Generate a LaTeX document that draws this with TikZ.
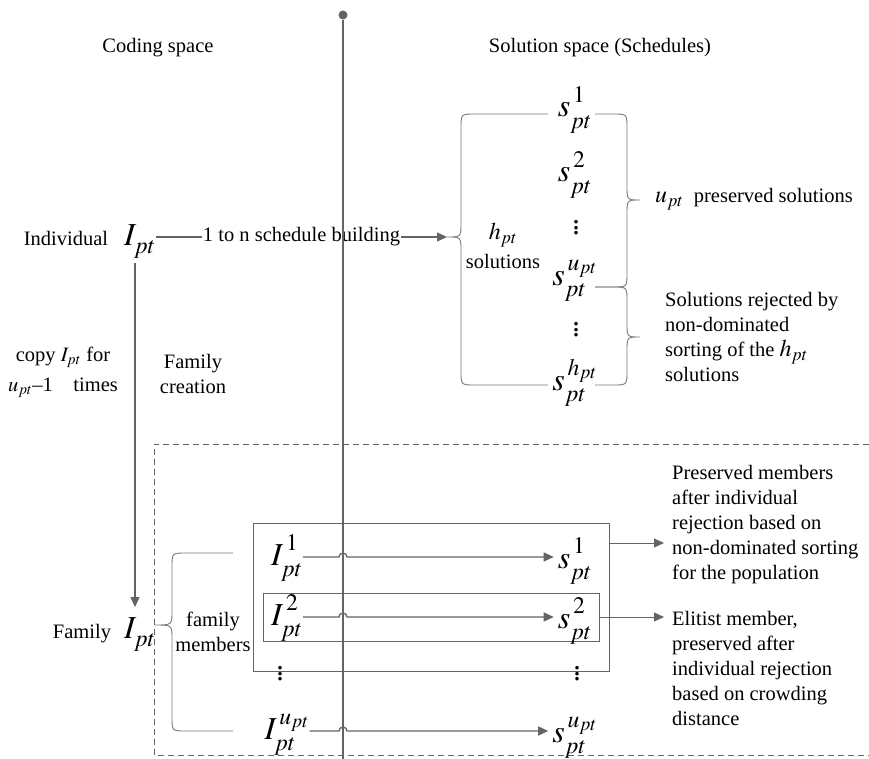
\documentclass[tikz,border=0pt]{standalone}
\usepackage{mathptmx}
\usepackage[no-math]{fontspec}
\setmainfont{Liberation Serif}
\usetikzlibrary{arrows.meta,positioning,calc}
\definecolor{linegray}{HTML}{646464}
\definecolor{bracegray}{HTML}{7A7A7A}

% symbol with raised index and lowered subscript
\newcommand{\symb}[3]{\ensuremath{#1^{\raisebox{3pt}{$\scriptstyle\,#2$}}_{\raisebox{-4pt}{$\scriptstyle#3$}}}}
\newcommand{\symsub}[2]{\ensuremath{#1_{\raisebox{-4pt}{$\scriptstyle#2$}}}}
\newcommand{\tallvdots}{\vbox{\baselineskip=5.5pt\lineskiplimit=0pt\hbox{.}\hbox{.}\hbox{.}}}

\tikzset{
    txt/.style={font=\fontsize{20.5}{25}\selectfont, inner sep=0pt},
    sym/.style={font=\fontsize{32}{32}\selectfont, inner sep=0pt},
    lab/.style={font=\fontsize{24}{24}\selectfont, inner sep=0pt},
    dotcol/.style={font=\fontsize{30}{30}\selectfont, inner sep=0pt},
    conn/.style={draw=linegray, line width=1.3pt},
    arr/.style={-{Triangle[length=10pt,width=9pt]}},
    brace/.style={draw=bracegray, line width=0.9pt},
    boxline/.style={draw=linegray, line width=0.8pt, inner sep=0pt},
}

\begin{document}
\begin{tikzpicture}[x=1pt,y=-1pt]
    \useasboundingbox (0,0) rectangle (869,759);

    % headings
    \node[txt] (coding) at (158,48) {Coding space};
    \node[txt] (solspace) at (600,48) {Solution space (Schedules)};

    % individual and its schedules
    \node[txt, anchor=base] (indiv) at (66,245) {Individual};
    \node[sym, anchor=base] (Ipt) at (140,245) {\symsub{I}{pt}};
    \coordinate (htip) at (447,237);
    \draw[conn, arr] (Ipt.east |- htip) -- node[txt, fill=white, inner xsep=1pt] (build) {1 to n schedule building} (htip);

    \draw[brace] (548,114) -- (475,114) .. controls (461,114) .. (461,128) -- (461,223)
        .. controls (461,237) .. (htip) .. controls (461,237) .. (461,251) -- (461,371)
        .. controls (461,385) .. (475,385) -- (548,385);
    \node[lab, anchor=base] (hpt) at (503,240) {$h_{pt}$};
    \node[txt, anchor=base] (hsol) at (503,268) {solutions};

    \foreach \n/\y/\t in {s1/117/1, s2/182/2, su/285/u_{pt}, sh/390/h_{pt}}
      { \node[sym, anchor=base] (\n) at (575,\y) {\symb{s}{\t}{pt}}; }
    \node[dotcol] (dots1) at (576,228) {\tallvdots};
    \node[dotcol] (dots2) at (576,330) {\tallvdots};

    \draw[brace] (595,114) -- (613,114) .. controls (627,114) .. (627,128) -- (627,186)
        .. controls (627,200) .. (640,200) .. controls (627,200) .. (627,214) -- (627,273)
        .. controls (627,287) .. (613,287) -- (595,287);
    \draw[brace] (595,287) -- (613,287) .. controls (627,287) .. (627,301) -- (627,323)
        .. controls (627,337) .. (640,337) .. controls (627,337) .. (627,351) -- (627,371)
        .. controls (627,385) .. (613,385) -- (595,385);
    \node[txt, anchor=base west] (upres) at (655,203) {{\fontsize{24}{24}\selectfont$u_{pt}$}\ \ preserved solutions};
    \node[txt, anchor=west, align=left] (reject) at (665,337) {Solutions rejected by\\non-dominated\\sorting of the {\fontsize{24}{24}\selectfont$h_{pt}$}\\solutions};

    % family creation
    \node[txt, anchor=base] (copy1) at (63,361) {copy $I_{pt}$ for};
    \node[txt, anchor=base] (copy2) at (63,391) {$u_{pt}$--1\quad times};
    \node[txt, align=center] (create) at (193,374) {Family\\creation};

    \node[txt, anchor=base] (fam) at (82,638) {Family};
    \node[sym, anchor=base] (famIpt) at (140,638) {\symsub{I}{pt}};
    \draw[conn, arr, shorten <=4pt, shorten >=10pt] ([xshift=-5pt]Ipt.south) -- ([xshift=-5pt]famIpt.north);

    \draw[draw=linegray, line width=0.8pt, dash pattern=on 6pt off 4pt] (869,444) -- (154,444) -- (154,755) -- (869,755);

    \coordinate (famtip) at (155,625);
    \draw[brace] (233,553) -- (186,553) .. controls (172,553) .. (172,567) -- (172,611)
        .. controls (172,625) .. (famtip) .. controls (172,625) .. (172,639) -- (172,717)
        .. controls (172,731) .. (186,731) -- (233,731);
    \node[txt, align=center] (members) at (213,632) {family\\members};

    \node[boxline, minimum width=356pt, minimum height=148pt] (outerbox) at (431,597) {};
    \node[boxline, minimum width=336pt, minimum height=48pt] (innerbox) at (431,617) {};

    % family members and their schedules
    \foreach \r/\y/\t in {1/557/1, 2/617/2, 3/731/u_{pt}}
      { \coordinate (row\r) at (0,\y);
        \node[sym, anchor=base] (I\r) at (287,\y+8) {\symb{I}{\t}{pt}};
        \node[sym, anchor=base] (S\r) at (575,\y+11) {\symb{s}{\t}{pt}};
        \draw[conn, arr, shorten >=4pt] (I\r.east |- row\r) -- (339,\y) arc (180:360:4) -- (S\r.west |- row\r); }
    \node[dotcol] (dots3) at (280,674) {\tallvdots};
    \node[dotcol] (dots4) at (577,674) {\tallvdots};

    \node[txt, anchor=west, align=left] (keep) at (672,525) {Preserved members\\after individual\\rejection based on\\non-dominated sorting\\for the population};
    \node[txt, anchor=west, align=left] (elite) at (672,668) {Elitist member,\\preserved after\\individual rejection\\based on crowding\\distance};
    \coordinate (keeprow) at (0,543);
    \draw[conn, arr, line width=1pt, shorten >=8pt] (outerbox.east |- keeprow) -- (keep.west |- keeprow);
    \draw[conn, arr, line width=1pt, shorten >=8pt] (innerbox.east) -- (elite.west |- innerbox.east);

    % axis between the two spaces
    \node[circle, fill=linegray, inner sep=0pt, minimum size=9pt] (axtop) at (343,15) {};
    \coordinate (axbot) at (343,759);
    \draw[draw=linegray, line width=1.6pt] (axtop) -- (axbot);
\end{tikzpicture}
\end{document}
